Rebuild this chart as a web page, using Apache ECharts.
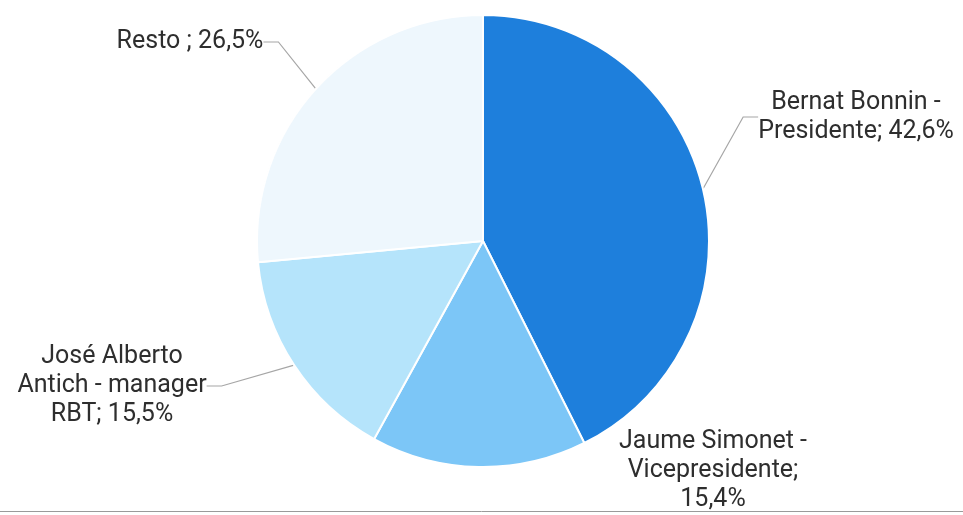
<!DOCTYPE html>
<html>
<head>
<meta charset="utf-8">
<script src="https://cdn.jsdelivr.net/npm/echarts@6/dist/echarts.min.js"></script>
<style>
html,body{margin:0;padding:0;background:#fff;}
#c{width:963px;height:515px;}
</style>
</head>
<body>
<div id="c"></div>
<script>
const categories = ['Bernat Bonnin - Presidente', 'Jaume Simonet - Vicepresidente', 'José Alberto Antich - manager RBT', 'Resto'];
const values = [42.6, 15.4, 15.5, 26.5];
const labelTexts = [
  'Bernat Bonnin -\nPresidente; 42,6%',
  'Jaume Simonet -\nVicepresidente;\n15,4%',
  'José Alberto\nAntich - manager\nRBT; 15,5%',
  'Resto ; 26,5%'
];
const colors = ['#1e7fdc', '#7cc6f7', '#b5e4fb', '#eef7fd'];
const labelPos = [[856, 117], [713, 471], [112, 386], [190, 42]];
const showLine = [true, false, true, true];

const chart = echarts.init(document.getElementById('c'), null, {renderer: 'canvas'});
chart.setOption({
  animation: false,
  backgroundColor: '#ffffff',
  series: [{
    type: 'pie',
    center: [483, 241],
    radius: 226,
    startAngle: 90,
    clockwise: true,
    itemStyle: {borderColor: '#ffffff', borderWidth: 2},
    label: {
      show: true,
      fontFamily: 'Roboto',
      fontSize: 25,
      lineHeight: 29,
      color: '#2e2e2e',
      align: 'center',
      formatter: p => labelTexts[p.dataIndex]
    },
    labelLine: {show: true, length: 20, length2: 15, lineStyle: {color: '#a6a6a6', width: 1.2}},
    labelLayout: function (p) {
      const pos = labelPos[p.dataIndex];
      return {x: pos[0], y: pos[1], align: 'center', verticalAlign: 'middle', hideOverlap: false};
    },
    data: categories.map((c, i) => ({
      name: c,
      value: values[i],
      itemStyle: {color: colors[i]},
      labelLine: {show: showLine[i]}
    }))
  }],
  graphic: [{
    type: 'line',
    shape: {x1: 0, y1: 511.5, x2: 963, y2: 511.5},
    style: {stroke: '#9a9a9a', lineWidth: 1}
  }]
});
</script>
</body>
</html>
